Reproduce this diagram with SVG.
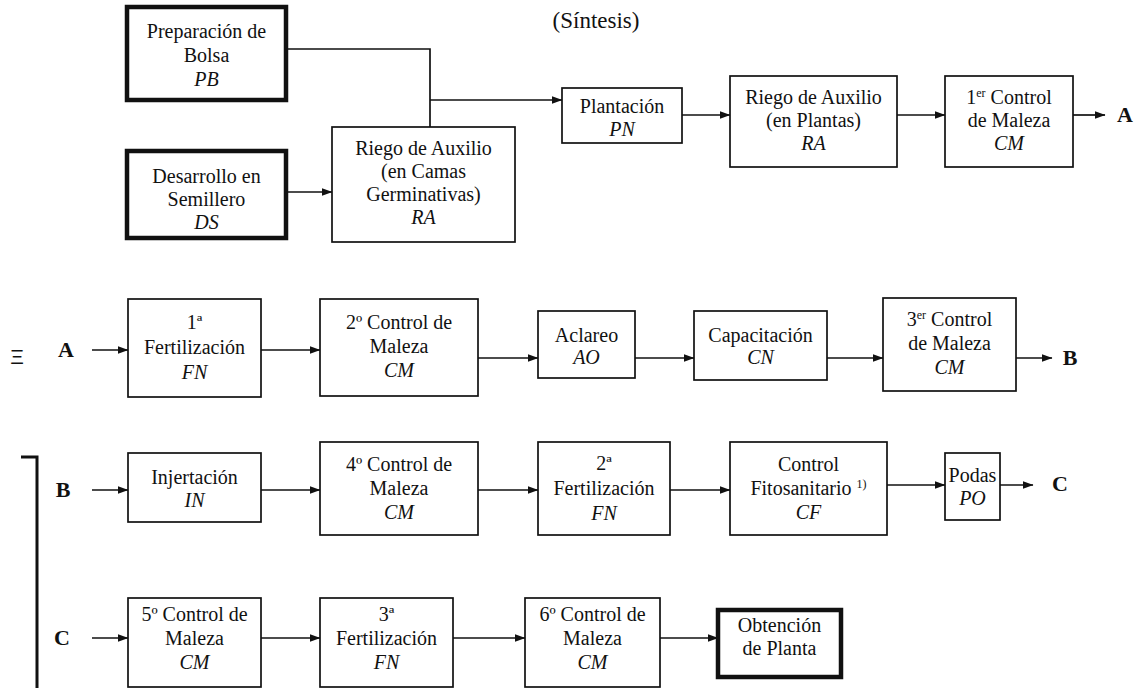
<svg xmlns="http://www.w3.org/2000/svg" width="1139" height="688" viewBox="0 0 1139 688">
<style>
  .box{fill:#fff;stroke:#111;stroke-width:1.7}
  .thick{fill:#fff;stroke:#111;stroke-width:4.5}
  .conn{fill:none;stroke:#111;stroke-width:1.7}
  .arrow{marker-end:url(#arr)}
</style>
<defs>
  <marker id="arr" markerUnits="userSpaceOnUse" markerWidth="11" markerHeight="8" refX="10.5" refY="4" orient="auto">
    <path d="M0,0 L11,4 L0,8 Z" fill="#111"/>
  </marker>
</defs>
<rect width="1139" height="688" fill="#fff"/>

<text x="596" y="28" text-anchor="middle" fill="#111" style="font-family:'Liberation Serif',serif;font-size:23px">(Síntesis)</text>

<g id="connectors">
  <path class="conn" d="M286,49 H430 V127"/>
  <path class="conn arrow" d="M430,100 H562"/>
  <path class="conn arrow" d="M286,192 H332"/>
  <path class="conn arrow" d="M682,115 H730"/>
  <path class="conn arrow" d="M897,115 H945"/>
  <path class="conn arrow" d="M1073,115 H1105"/>
  <path class="conn arrow" d="M92,350 H128"/>
  <path class="conn arrow" d="M261,350 H320"/>
  <path class="conn arrow" d="M478,358 H538"/>
  <path class="conn arrow" d="M635,358 H694"/>
  <path class="conn arrow" d="M827,358 H883"/>
  <path class="conn arrow" d="M1016,358 H1052"/>
  <path class="conn arrow" d="M92,490 H128"/>
  <path class="conn arrow" d="M261,490 H320"/>
  <path class="conn arrow" d="M478,490 H538"/>
  <path class="conn arrow" d="M670,490 H730"/>
  <path class="conn arrow" d="M887,485 H945"/>
  <path class="conn arrow" d="M1000,485 H1033"/>
  <path class="conn arrow" d="M92,638 H128"/>
  <path class="conn arrow" d="M261,638 H320"/>
  <path class="conn arrow" d="M453,638 H525"/>
  <path class="conn arrow" d="M660,638 H718"/>
</g>

<g id="labels" text-anchor="middle" fill="#111" style="font-family:'Liberation Serif',serif;font-size:22px;font-weight:bold">
  <text x="1125" y="122">A</text>
  <text x="66" y="357">A</text>
  <text x="1070" y="365">B</text>
  <text x="63" y="497">B</text>
  <text x="1060" y="491">C</text>
  <text x="62" y="645">C</text>
  <text x="17" y="364" style="font-family:'Liberation Sans',Arial,sans-serif;font-size:21px;font-weight:normal">Ξ</text>
  <path d="M21,457 H37 V688" fill="none" stroke="#111" stroke-width="3"/>
</g>

<g id="nodes" text-anchor="middle" fill="#111" style="font-family:'Liberation Serif',serif;font-size:20px">
<g id="PB">
  <rect class="thick" x="127" y="7" width="159" height="93"/>
  <text x="206.5" y="38">Preparación de</text>
  <text x="206.5" y="62">Bolsa</text>
  <text x="206.5" y="86" font-style="italic">PB</text>
</g>
<g id="DS">
  <rect class="thick" x="127" y="151" width="159" height="87"/>
  <text x="206.5" y="183">Desarrollo en</text>
  <text x="206.5" y="206">Semillero</text>
  <text x="206.5" y="229" font-style="italic">DS</text>
</g>
<g id="RA1">
  <rect class="box" x="332" y="127" width="183" height="115"/>
  <text x="423.5" y="155">Riego de Auxilio</text>
  <text x="423.5" y="178">(en Camas</text>
  <text x="423.5" y="201">Germinativas)</text>
  <text x="423.5" y="224" font-style="italic">RA</text>
</g>
<g id="PN">
  <rect class="box" x="562" y="88" width="120" height="55"/>
  <text x="622" y="113">Plantación</text>
  <text x="622" y="136" font-style="italic">PN</text>
</g>
<g id="RA2">
  <rect class="box" x="730" y="76" width="167" height="91"/>
  <text x="813.5" y="104">Riego de Auxilio</text>
  <text x="813.5" y="127">(en Plantas)</text>
  <text x="813.5" y="150" font-style="italic">RA</text>
</g>
<g id="CM1">
  <rect class="box" x="945" y="76" width="128" height="91"/>
  <text x="1009" y="104">1<tspan font-size="12" dy="-7">er</tspan><tspan dy="7"> Control</tspan></text>
  <text x="1009" y="127">de Maleza</text>
  <text x="1009" y="150" font-style="italic">CM</text>
</g>

<g id="FN1">
  <rect class="box" x="128" y="299" width="133" height="98"/>
  <text x="194.5" y="329">1ª</text>
  <text x="194.5" y="354">Fertilización</text>
  <text x="194.5" y="379" font-style="italic">FN</text>
</g>
<g id="CM2">
  <rect class="box" x="320" y="299" width="158" height="97"/>
  <text x="399" y="329">2º Control de</text>
  <text x="399" y="353">Maleza</text>
  <text x="399" y="377" font-style="italic">CM</text>
</g>
<g id="AO">
  <rect class="box" x="538" y="311" width="97" height="67"/>
  <text x="586.5" y="342">Aclareo</text>
  <text x="586.5" y="364" font-style="italic">AO</text>
</g>
<g id="CN">
  <rect class="box" x="694" y="311" width="133" height="69"/>
  <text x="760.5" y="342">Capacitación</text>
  <text x="760.5" y="364" font-style="italic">CN</text>
</g>
<g id="CM3">
  <rect class="box" x="883" y="298" width="133" height="93"/>
  <text x="949.5" y="326">3<tspan font-size="12" dy="-7">er</tspan><tspan dy="7"> Control</tspan></text>
  <text x="949.5" y="350">de Maleza</text>
  <text x="949.5" y="374" font-style="italic">CM</text>
</g>

<g id="IN">
  <rect class="box" x="128" y="453" width="133" height="69"/>
  <text x="194.5" y="484">Injertación</text>
  <text x="194.5" y="507" font-style="italic">IN</text>
</g>
<g id="CM4">
  <rect class="box" x="320" y="442" width="158" height="93"/>
  <text x="399" y="471">4º Control de</text>
  <text x="399" y="495">Maleza</text>
  <text x="399" y="519" font-style="italic">CM</text>
</g>
<g id="FN2">
  <rect class="box" x="538" y="442" width="132" height="93"/>
  <text x="604" y="470">2ª</text>
  <text x="604" y="495">Fertilización</text>
  <text x="604" y="520" font-style="italic">FN</text>
</g>
<g id="CF">
  <rect class="box" x="730" y="442" width="157" height="93"/>
  <text x="808.5" y="471">Control</text>
  <text x="808.5" y="495">Fitosanitario <tspan font-size="12" dy="-7">1)</tspan></text>
  <text x="808.5" y="519" font-style="italic">CF</text>
</g>
<g id="PO">
  <rect class="box" x="945" y="453" width="55" height="67"/>
  <text x="972.5" y="482">Podas</text>
  <text x="972.5" y="505" font-style="italic">PO</text>
</g>

<g id="CM5">
  <rect class="box" x="128" y="598" width="133" height="89"/>
  <text x="194.5" y="621">5º Control de</text>
  <text x="194.5" y="645">Maleza</text>
  <text x="194.5" y="669" font-style="italic">CM</text>
</g>
<g id="FN3">
  <rect class="box" x="320" y="598" width="133" height="89"/>
  <text x="386.5" y="621">3ª</text>
  <text x="386.5" y="645">Fertilización</text>
  <text x="386.5" y="669" font-style="italic">FN</text>
</g>
<g id="CM6">
  <rect class="box" x="525" y="598" width="135" height="89"/>
  <text x="592.5" y="621">6º Control de</text>
  <text x="592.5" y="645">Maleza</text>
  <text x="592.5" y="669" font-style="italic">CM</text>
</g>
<g id="OB">
  <rect class="thick" x="718" y="610" width="123" height="67"/>
  <text x="779.5" y="632">Obtención</text>
  <text x="779.5" y="655">de Planta</text>
</g>
</g>
</svg>
